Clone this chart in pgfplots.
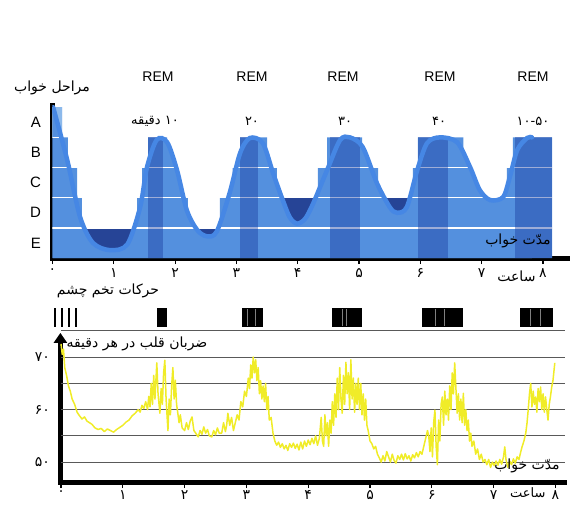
\documentclass[border=0pt]{standalone}
\usepackage{pgfplots}
\usepackage{pgfplotstable}
\pgfplotsset{compat=1.18}
\usetikzlibrary{arrows.meta}
\usepackage{fontspec}
\setmainfont{Liberation Sans}
\newfontfamily\fa[Script=Arabic]{DejaVu Sans}
\TeXXeTstate=1

\definecolor{lb}{RGB}{84,144,222}
\definecolor{llb}{RGB}{140,185,235}
\definecolor{db}{RGB}{38,68,150}
\definecolor{rb}{RGB}{25,60,160}
\definecolor{cb}{RGB}{70,135,228}
\definecolor{hy}{RGB}{240,236,40}

\pgfplotstableread{
h L
0.01 5.5
0.24 3.75
0.45 1.86
0.66 1.0
0.94 0.76
1.22 0.95
1.43 2.19
1.54 3.5
1.70 4.42
1.87 4.34
2.03 3.42
2.19 2.09
2.36 1.43
2.52 1.22
2.68 1.38
2.89 2.66
3.06 3.98
3.22 4.48
3.43 4.31
3.60 3.30
3.75 2.45
3.87 1.85
3.99 1.64
4.12 1.80
4.25 2.30
4.48 3.42
4.69 4.41
4.85 4.5
5.06 4.18
5.29 2.99
5.5 2.19
5.62 2.0
5.78 2.19
5.95 3.42
6.11 4.31
6.32 4.5
6.6 4.34
6.81 3.52
6.97 2.75
7.14 2.42
7.35 2.52
7.46 3.19
7.58 4.08
7.74 4.48
7.82 4.5
}\curvetab

\pgfplotstableread{
h b
0.00 72.5
0.02 70.5
0.04 71.5
0.06 68
0.09 66.5
0.12 64.5
0.15 63.5
0.18 62
0.22 61
0.26 59.5
0.30 58.8
0.34 58.2
0.38 58.6
0.42 57.8
0.46 57.5
0.50 57.2
0.55 56.5
0.60 56.2
0.65 56.4
0.70 55.8
0.75 56.3
0.80 56
0.85 55.7
0.90 56.2
0.95 56.6
1.00 57.0
1.05 57.6
1.10 58.0
1.15 58.8
1.20 59.3
1.25 60.0
1.28 59.5
1.31 60.8
1.34 60.2
1.37 61.5
1.40 60
1.42 62.5
1.44 60.5
1.46 65
1.48 61
1.50 66.5
1.52 62
1.55 68.9
1.57 63
1.60 59.3
1.62 64
1.64 61
1.66 67
1.68 69.4
1.70 62
1.73 56
1.75 62
1.77 59
1.79 64.5
1.81 68
1.83 62
1.85 65.6
1.87 61
1.89 59.3
1.91 57.5
1.93 59
1.96 56.5
2.00 56
2.03 57.5
2.06 56.2
2.09 57.8
2.12 58.6
2.15 56
2.18 55.5
2.22 54.8
2.25 56
2.28 55.3
2.31 56.7
2.34 55.5
2.37 56.2
2.40 55
2.44 54.8
2.47 56
2.50 55.2
2.53 56.5
2.56 55.5
2.60 55.5
2.63 57.5
2.66 55.8
2.68 57
2.70 59.3
2.73 57
2.76 58.5
2.79 56
2.82 57.5
2.85 59
2.88 58
2.91 61.5
2.94 60.5
2.97 63.5
3.00 62.5
3.03 66
3.05 64
3.07 68.5
3.09 66
3.11 70
3.13 67
3.15 69.5
3.17 65.5
3.19 68
3.21 63
3.23 65.5
3.25 62
3.27 64.5
3.29 61.5
3.31 65
3.33 60
3.35 62.5
3.37 58
3.40 58.5
3.43 55.5
3.46 54
3.49 53.2
3.52 53.8
3.55 52.8
3.58 53.5
3.61 52.5
3.64 53.2
3.67 52.2
3.70 53.5
3.73 52.8
3.76 53.6
3.79 52.6
3.82 53.4
3.85 52.3
3.88 53.8
3.91 52.5
3.94 54
3.97 53
4.00 54.2
4.03 53.3
4.06 54.5
4.09 53.5
4.12 55
4.15 53.2
4.18 54.5
4.21 58.5
4.23 54
4.25 53
4.27 59
4.29 55
4.31 57.5
4.33 53
4.35 58
4.37 55.5
4.39 61.5
4.41 57
4.43 63
4.45 58.5
4.47 66
4.49 60
4.51 68
4.53 62
4.55 59.3
4.57 66.5
4.59 61
4.61 69
4.63 63
4.65 67
4.67 60
4.69 69.5
4.71 62
4.73 66
4.75 59.5
4.77 65
4.79 61
4.81 66
4.83 60
4.85 65
4.87 59
4.89 63
4.91 58
4.93 62
4.95 57
4.97 56
5.00 54
5.03 53.5
5.06 52.5
5.09 53
5.12 51.5
5.15 50.8
5.18 50
5.21 51.2
5.24 50.2
5.27 52
5.30 51
5.33 50
5.36 51.5
5.39 50.3
5.42 49.8
5.45 51.2
5.48 50.5
5.51 51.5
5.54 50.4
5.57 51.6
5.60 50.6
5.63 51.2
5.66 50.2
5.69 51.4
5.72 50.8
5.75 51.8
5.78 51
5.81 52
5.84 51.5
5.87 53
5.90 54.5
5.93 56
5.95 55
5.97 52
5.99 56.5
6.01 51
6.03 57.5
6.05 59.9
6.07 53
6.09 49.5
6.11 58
6.13 54
6.15 61
6.17 62.4
6.19 57
6.21 63.5
6.23 59
6.25 62
6.27 58
6.29 64.5
6.31 60
6.33 67
6.35 63
6.37 68.9
6.39 64
6.41 59.3
6.43 63
6.45 58
6.47 62
6.49 57.5
6.51 63.1
6.53 57
6.55 60
6.57 56
6.59 58
6.61 54
6.63 55.5
6.65 53
6.68 54
6.71 51.5
6.74 52.5
6.77 50.5
6.80 51.5
6.83 50
6.86 50.5
6.89 49.5
6.92 50.5
6.95 49
6.98 50
7.01 49.3
7.04 50.2
7.07 49.4
7.10 50.5
7.13 49.6
7.16 51
7.18 52.9
7.20 50.5
7.23 49
7.26 50.2
7.29 49.5
7.32 50.6
7.35 49.8
7.38 51
7.41 50.5
7.44 52
7.46 52.9
7.49 54
7.52 55.5
7.54 57.4
7.56 60
7.58 63
7.60 65
7.62 60.5
7.64 63.5
7.66 61
7.68 62.4
7.70 59.5
7.72 64
7.74 61.5
7.76 64.3
7.78 60
7.80 63
7.82 59.5
7.84 62.4
7.86 60
7.88 58
7.90 61
7.92 62.5
7.94 64.3
7.96 65.5
7.99 68.9
}\hrtab

\begin{document}
\begin{tikzpicture}
\path[use as bounding box] (0pt,0pt) rectangle (571pt,-504pt);

% ---------- top panel: sleep stages ----------
\begin{axis}[
  at={(52.5pt,-258pt)}, anchor=south west,
  scale only axis, width=515pt, height=155pt,
  xmin=0, xmax=8.4, ymin=0.5, ymax=5.64,
  axis x line=bottom, axis y line=left,
  axis line style={line width=5pt,-},
  x axis line style={line cap=rect},
  tick align=outside, major tick length=6pt,
  xtick={0,...,8},
  xticklabels={\mbox{\fa ۰},\mbox{\fa ۱},\mbox{\fa ۲},\mbox{\fa ۳},\mbox{\fa ۴},\mbox{\fa ۵},\mbox{\fa ۶},\mbox{\fa ۷},\mbox{\fa ۸}},
  xticklabel style={font=\fa\fontsize{14}{14}\selectfont, yshift=-1pt},
  x tick style={black, line width=1.2pt},
  ytick={1,...,5}, yticklabels={E,D,C,B,A},
  yticklabel style={font=\fontsize{15}{15}\selectfont, xshift=-2pt},
  y tick style={draw=none},
]
% staircase (hypnogram) fill
\addplot[const plot, fill=lb, draw=none] coordinates {
 (0,5.5) (0.155,4.5) (0.25,3.5) (0.40,2.5) (0.48,1.5) (1.38,2.5) (1.46,3.5)
 (1.56,4.5) (1.87,3.5) (2.0,2.5) (2.21,1.5) (2.73,2.5) (2.94,3.5) (3.06,4.5)
 (3.5,3.5) (3.66,2.5) (4.33,3.5) (4.48,4.5) (5.05,3.5) (5.31,2.5) (5.88,3.5)
 (5.96,4.5) (6.7,3.5) (6.81,2.5) (7.41,3.5) (7.51,4.5) (8.15,4.5)} \closedcycle;
\addplot[fill=llb, draw=none] coordinates {(0,4.5) (0,5.5) (0.155,5.5) (0.155,4.5)} --cycle;
% dark troughs
\addplot[fill=db, draw=none] coordinates {(0.48,0.5) (0.48,1.5) (1.38,1.5) (1.38,0.5)} --cycle;
\addplot[fill=db, draw=none] coordinates {(2.21,0.5) (2.21,1.5) (2.73,1.5) (2.73,0.5)} --cycle;
\addplot[fill=db, draw=none] coordinates {(3.66,0.5) (3.66,2.5) (4.33,2.5) (4.33,0.5)} --cycle;
\addplot[fill=db, draw=none] coordinates {(5.31,0.5) (5.31,2.5) (5.88,2.5) (5.88,0.5)} --cycle;
% area under the curve
\addplot[smooth, fill=lb, draw=none] table[x=h,y=L] {\curvetab} \closedcycle;
% white stage lines
\addplot[white, line width=1.6pt] coordinates {(0,1.5) (8.15,1.5)};
\addplot[white, line width=1.6pt] coordinates {(0,2.5) (8.15,2.5)};
\addplot[white, line width=1.6pt] coordinates {(0,3.5) (8.15,3.5)};
\addplot[white, line width=1.6pt] coordinates {(0,4.5) (0.155,4.5)};
% REM bands
\addplot[fill=rb, fill opacity=0.42, draw=none] coordinates {(1.56,0.5) (1.56,4.5) (1.80,4.5) (1.80,0.5)} --cycle;
\addplot[fill=rb, fill opacity=0.42, draw=none] coordinates {(3.06,0.5) (3.06,4.5) (3.35,4.5) (3.35,0.5)} --cycle;
\addplot[fill=rb, fill opacity=0.42, draw=none] coordinates {(4.53,0.5) (4.53,4.5) (5.01,4.5) (5.01,0.5)} --cycle;
\addplot[fill=rb, fill opacity=0.42, draw=none] coordinates {(5.96,0.5) (5.96,4.5) (6.45,4.5) (6.45,0.5)} --cycle;
\addplot[fill=rb, fill opacity=0.42, draw=none] coordinates {(7.54,0.5) (7.54,4.5) (8.15,4.5) (8.15,0.5)} --cycle;
% curve
\addplot[smooth, cb, line width=4.5pt, line cap=round] table[x=h,y=L] {\curvetab};
\end{axis}

% ---------- bottom panel: heart rate ----------
\begin{axis}[
  at={(60.4pt,-482pt)}, anchor=south west,
  scale only axis, width=504.3pt, height=149.1pt,
  xmin=-0.01, xmax=8.15, ymin=46.2, ymax=74.6,
  clip=false,
  axis x line=bottom, axis y line=left,
  x axis line style={line width=5pt,-,line cap=rect},
  y axis line style={line width=5pt,-{Triangle[width=13pt,length=10pt]}},
  tick align=outside, major tick length=6pt,
  xtick={0,...,8},
  xticklabels={\mbox{\fa ۰},\mbox{\fa ۱},\mbox{\fa ۲},\mbox{\fa ۳},\mbox{\fa ۴},\mbox{\fa ۵},\mbox{\fa ۶},\mbox{\fa ۷},\mbox{\fa ۸}},
  xticklabel style={font=\fa\fontsize{14}{14}\selectfont, yshift=1pt},
  x tick style={black, line width=1.2pt},
  ytick={50,60,70},
  yticklabels={\mbox{\fa ۵۰},\mbox{\fa ۶۰},\mbox{\fa ۷۰}},
  yticklabel style={font=\fa\fontsize{14}{14}\selectfont, xshift=-1pt},
  y tick style={draw=none},
]
% grid lines
\addplot[black!65, line width=0.9pt] coordinates {(0,75) (8.15,75)};
\addplot[black!65, line width=0.9pt] coordinates {(0,70) (8.15,70)};
\addplot[black!65, line width=0.9pt] coordinates {(0,65) (8.15,65)};
\addplot[black!65, line width=0.9pt] coordinates {(0,60) (8.15,60)};
\addplot[black!65, line width=0.9pt] coordinates {(0,55) (8.15,55)};
\addplot[black!65, line width=0.9pt] coordinates {(0,50) (8.15,50)};
% eye movements
\addplot[fill=black, draw=none] coordinates {(-0.115,75.8) (-0.115,79.3) (-0.085,79.3) (-0.085,75.8)} --cycle;
\addplot[fill=black, draw=none] coordinates {(0.005,75.8) (0.005,79.3) (0.035,79.3) (0.035,75.8)} --cycle;
\addplot[fill=black, draw=none] coordinates {(0.115,75.8) (0.115,79.3) (0.145,79.3) (0.145,75.8)} --cycle;
\addplot[fill=black, draw=none] coordinates {(0.225,75.8) (0.225,79.3) (0.255,79.3) (0.255,75.8)} --cycle;
\addplot[fill=black, draw=none] coordinates {(1.55,75.8) (1.55,79.3) (1.72,79.3) (1.72,75.8)} --cycle;
\addplot[fill=black, draw=none] coordinates {(2.93,75.8) (2.93,79.3) (3.27,79.3) (3.27,75.8)} --cycle;
\addplot[fill=black, draw=none] coordinates {(4.39,75.8) (4.39,79.3) (4.87,79.3) (4.87,75.8)} --cycle;
\addplot[fill=black, draw=none] coordinates {(5.84,75.8) (5.84,79.3) (6.50,79.3) (6.50,75.8)} --cycle;
\addplot[fill=black, draw=none] coordinates {(7.43,75.8) (7.43,79.3) (7.96,79.3) (7.96,75.8)} --cycle;
\addplot[gray, line width=0.7pt] coordinates {(3.02,76) (3.02,79.1)};
\addplot[gray, line width=0.7pt] coordinates {(3.15,76) (3.15,79.1)};
\addplot[gray, line width=0.7pt] coordinates {(4.55,76) (4.55,79.1)};
\addplot[gray, line width=0.7pt] coordinates {(4.62,76) (4.62,79.1)};
\addplot[gray, line width=0.7pt] coordinates {(6.05,76) (6.05,79.1)};
\addplot[gray, line width=0.7pt] coordinates {(6.20,76) (6.20,79.1)};
\addplot[gray, line width=0.7pt] coordinates {(7.60,76) (7.60,79.1)};
\addplot[gray, line width=0.7pt] coordinates {(7.75,76) (7.75,79.1)};
% heart rate
\addplot[hy, line width=1.5pt, line join=round] table[x=h,y=b] {\hrtab};
\end{axis}

% ---------- texts ----------
\node[font=\fa\fontsize{14}{14}\selectfont] at (52pt,-88pt) {\beginR مراحل خواب\endR};
\foreach \xx in {158,252,343,440,533}
  \node[font=\fontsize{14}{14}\selectfont] at (\xx pt,-77pt) {REM};
\node[font=\fa\fontsize{13}{13}\selectfont] at (155pt,-121pt) {\beginR ۱۰ دقیقه\endR};
\node[font=\fa\fontsize{13}{13}\selectfont] at (252pt,-121pt) {۲۰};
\node[font=\fa\fontsize{13}{13}\selectfont] at (345pt,-121pt) {۳۰};
\node[font=\fa\fontsize{13}{13}\selectfont] at (439pt,-121pt) {۴۰};
\node[font=\fa\fontsize{13}{13}\selectfont] at (533pt,-121pt) {\mbox{۱۰}\mbox{-}\mbox{۵۰}};
\node[font=\fa\fontsize{14}{14}\selectfont] at (518pt,-241pt) {\beginR مدّت خواب\endR};
\node[font=\fa\fontsize{14}{14}\selectfont, anchor=east] at (539pt,-276pt) {\beginR ساعت\endR};
\node[font=\fa\fontsize{14}{14}\selectfont] at (108pt,-291pt) {\beginR حرکات تخم چشم\endR};
\node[font=\fa\fontsize{14}{14}\selectfont] at (137pt,-344pt) {\beginR ضربان قلب در هر دقیقه\endR};
\node[font=\fa\fontsize{14}{14}\selectfont] at (527pt,-466pt) {\beginR مدّت خواب\endR};
\node[font=\fa\fontsize{13}{13}\selectfont, anchor=east] at (549pt,-493pt) {\beginR ساعت\endR};
\end{tikzpicture}
\end{document}
